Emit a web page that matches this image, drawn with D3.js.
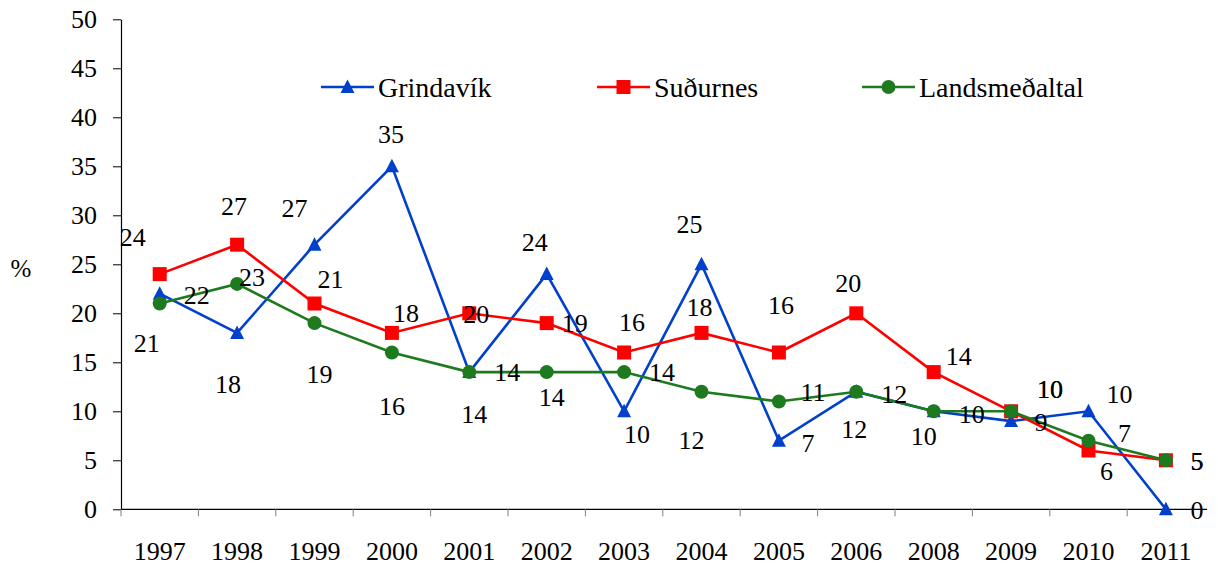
<!DOCTYPE html>
<html>
<head>
<meta charset="utf-8">
<script src="https://cdn.jsdelivr.net/npm/d3@7"></script>
<style>
  html, body { margin: 0; padding: 0; background: #fff; }
</style>
</head>
<body>
<svg id="chart" width="1218" height="565"></svg>
<script>
// ---- data ----
const years = ["1997","1998","1999","2000","2001","2002","2003","2004","2005","2006","2008","2009","2010","2011"];
const grindavik = [22, 18, 27, 35, 14, 24, 10, 25, 7, 12, 10, 9, 10, 0];
const sudurnes = [24, 27, 21, 18, 20, 19, 16, 18, 16, 20, 14, 10, 6, 5];
const landsmedaltal = [21, 23, 19, 16, 14, 14, 14, 12, 11, 12, 10, 10, 7, 5];
const yTicks = [0, 5, 10, 15, 20, 25, 30, 35, 40, 45, 50];
const seriesNames = ["Grindavík", "Suðurnes", "Landsmeðaltal"];

// ---- layout (label offsets from each point, in px) ----
const grindavikLabelOffsets = [[37,1],[-9,51],[-20,-37],[-1,-32],[5,42],[-12,-32],[13,23],[-12,-40],[29,2],[-2,37],[-10,25],[30,1],[31,-17],[31,1]];
const sudurnesLabelOffsets = [[-27,-37],[-3,-39],[16,-25],[14,-20],[7,1],[28,0],[8,-31],[-2,-26],[2,-48],[-8,-30],[25,-16],[39,-22],[18,20],[31,1]];
const landsLabelOffsets = [[-13,39],[15,-7],[5,51],[0,53],[38,0],[5,25],[38,0],[-10,48],[34,-10],[38,2],[38,3],[39,-22],[36,-8],[31,1]];

const series = [
  { name: seriesNames[0], values: grindavik, color: "#0040CC", marker: "triangle", offsets: grindavikLabelOffsets, legendX: 321 },
  { name: seriesNames[1], values: sudurnes, color: "#FF0000", marker: "square", offsets: sudurnesLabelOffsets, legendX: 597 },
  { name: seriesNames[2], values: landsmedaltal, color: "#1E7A1E", marker: "circle", offsets: landsLabelOffsets, legendX: 862 }
];

const svg = d3.select("#chart");
const plotLeft = 121, plotRight = 1204.6, plotTop = 19.3, plotBottom = 509.3;
const FONT = "Liberation Serif";

const x = d3.scaleBand().domain(years).range([plotLeft, plotRight]).padding(0);
const y = d3.scaleLinear().domain([0, 50]).range([plotBottom, plotTop]);
const cx = d => x(d) + x.bandwidth() / 2;

// ---- Y axis ----
const yAxis = d3.axisLeft(y).tickValues(yTicks).tickSize(8).tickPadding(16).tickSizeOuter(0);
const gy = svg.append("g").attr("transform", `translate(${plotLeft},0)`).call(yAxis);
gy.attr("font-family", FONT).attr("font-size", 26);
gy.select(".domain").attr("stroke", "#000").attr("stroke-width", 1.2);
gy.selectAll(".tick line").attr("stroke", "#000");
gy.selectAll(".tick text").attr("fill", "#000").attr("font-family", FONT).attr("font-size", 26);

// ---- X axis ----
const gx = svg.append("g").attr("transform", `translate(0,${plotBottom})`);
gx.append("line").attr("x1", plotLeft).attr("x2", 1207).attr("y1", 0).attr("y2", 0).attr("stroke", "#000").attr("stroke-width", 1.2);
gx.selectAll("line.tk").data(years).enter().append("line").attr("class", "tk")
  .attr("x1", d => x(d)).attr("x2", d => x(d)).attr("y1", 0).attr("y2", 7)
  .attr("stroke", "#808080").attr("stroke-width", 1);
gx.selectAll("text.yl").data(years).enter().append("text").attr("class", "yl")
  .attr("x", d => cx(d)).attr("y", 560 - plotBottom).attr("text-anchor", "middle")
  .attr("font-family", FONT).attr("font-size", 26).attr("fill", "#000").text(d => d);

// ---- Y label ----
svg.append("text").attr("x", 21).attr("y", 277).attr("text-anchor", "middle").attr("font-family", FONT).attr("font-size", 25).attr("fill", "#000").text("%");

// ---- markers ----
function drawMarker(g, type, color, px, py) {
  if (type === "triangle") {
    g.append("path").attr("d", "M0,-7.5L7,6L-7,6Z").attr("transform", `translate(${px},${py})`).attr("fill", color);
  } else if (type === "square") {
    g.append("rect").attr("x", px - 7).attr("y", py - 7).attr("width", 14).attr("height", 14).attr("fill", color);
  } else {
    g.append("circle").attr("cx", px).attr("cy", py).attr("r", 7).attr("fill", color);
  }
}

const line = d3.line().x((d, i) => cx(years[i])).y(d => y(d));

series.forEach(s => {
  const g = svg.append("g");
  g.append("path").datum(s.values).attr("d", line).attr("fill", "none").attr("stroke", s.color).attr("stroke-width", 2.6);
  s.values.forEach((v, i) => drawMarker(g, s.marker, s.color, cx(years[i]), y(v)));
});

// ---- data labels ----
series.forEach(s => {
  svg.append("g").selectAll("text").data(s.values).enter().append("text")
    .attr("x", (v, i) => cx(years[i]) + s.offsets[i][0])
    .attr("y", (v, i) => y(v) + s.offsets[i][1])
    .attr("dy", "0.35em").attr("text-anchor", "middle")
    .attr("font-family", FONT).attr("font-size", 26).attr("fill", "#000")
    .text(v => v);
});

// ---- legend ----
series.forEach(s => {
  const g = svg.append("g");
  const ly = 87;
  g.append("line").attr("x1", s.legendX).attr("x2", s.legendX + 53).attr("y1", ly).attr("y2", ly).attr("stroke", s.color).attr("stroke-width", 2.6);
  drawMarker(g, s.marker, s.color, s.legendX + 26.5, ly);
  g.append("text").attr("x", s.legendX + 57).attr("y", ly + 9.5).attr("font-family", FONT).attr("font-size", 28).attr("fill", "#000").text(s.name);
});
</script>
</body>
</html>
